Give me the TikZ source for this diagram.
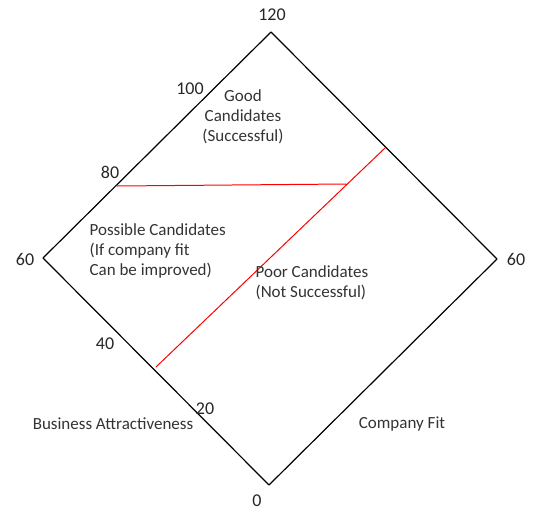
\documentclass[tikz,border=0pt]{standalone}
\usepackage{fontspec}
\setmainfont{Carlito}
\tikzstyle{every node}=[font=\fontsize{17}{20}\selectfont,inner sep=0pt]
\tikzstyle{every path}=[line width=1.2pt,line cap=round,line join=round]
\tikzstyle{num}=[font=\fontsize{18}{20}\selectfont,text=black!85]
\tikzstyle{lbl}=[text=black!80]

\begin{document}
\begin{tikzpicture}[x=1pt,y=-1pt]
    \useasboundingbox (0,0) rectangle (535,512);

    % Corners of the diamond
    \coordinate (top) at (271,32);
    \coordinate (left) at (43,258);
    \coordinate (right) at (497,259);
    \coordinate (bot) at (269,485);
    \draw (top) -- (left) -- (bot) -- (right) -- cycle;

    % Dividing lines
    \coordinate (h80) at (117,186);
    \coordinate (hend) at (346,184);
    \coordinate (dlow) at (156,367);
    \coordinate (dup) at (385,148);
    \draw[red,line width=1pt] (h80) -- (hend)
        (dlow) -- (dup);

    % Scale values
    \node[num] (v120) at (272,15) {120};
    \node[num] (v100) at (190,89) {100};
    \node[num] (v80) at (110,172) {80};
    \node[num] (v60l) at (25,259) {60};
    \node[num] (v60r) at (516,259) {60};
    \node[num] (v40) at (105,344) {40};
    \node[num] (v20) at (205,409) {20};
    \node[num] (v0) at (257,501) {0};

    % Regions
    \node[lbl,align=center] (good) at (243,117) {Good\\Candidates\\(Successful)};
    \node[lbl,align=left,anchor=west] (possible) at (89,251)
        {Possible Candidates\\(If company fit\\Can be improved)};
    \node[lbl,align=left,anchor=west] (poor) at (255,283)
        {Poor Candidates\\(Not Successful)};

    % Axis names
    \node[lbl] (business) at (113,424) {Business Attractiveness};
    \node[lbl] (fit) at (402,424) {Company Fit};
\end{tikzpicture}
\end{document}
